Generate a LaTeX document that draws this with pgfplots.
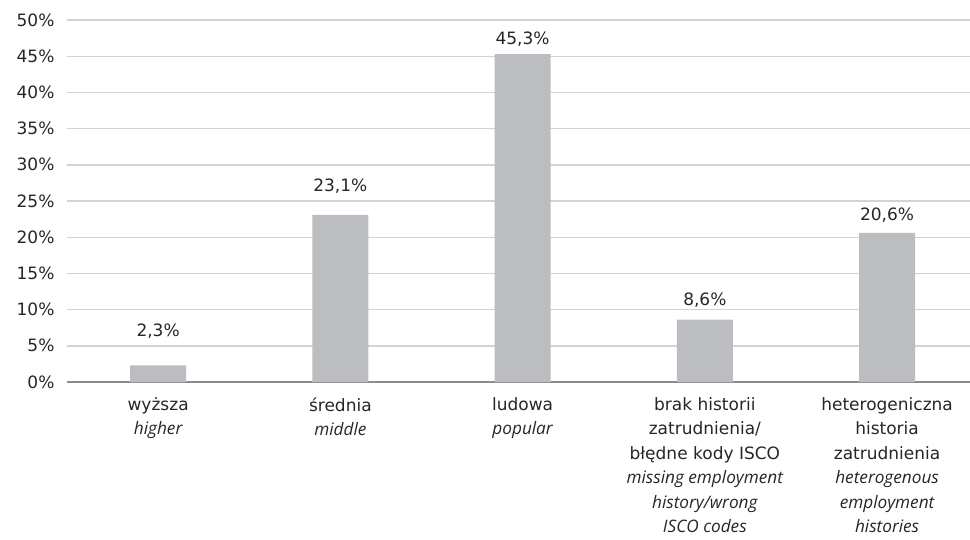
\documentclass[border=0pt]{standalone}
\usepackage{fontspec}
\setmainfont{DejaVu Sans}
\newfontfamily\itfam{Open Sans}
\newcommand\en[1]{{\itfam\itshape\fontsize{17.2}{24.4}\selectfont #1}}
\usepackage{pgfplots}
\pgfplotsset{compat=1.18}
\definecolor{barc}{HTML}{BCBDC0}
\definecolor{gridc}{HTML}{D3D3D3}
\definecolor{axc}{HTML}{8C8C8C}
\definecolor{txt}{HTML}{262626}
\begin{document}
\begin{tikzpicture}
\useasboundingbox (-67pt,-157pt) rectangle (903pt,382pt);
\begin{axis}[
  at={(0pt,0pt)}, anchor=south west,
  scale only axis, width=903pt, height=362pt,
  xmin=-0.5, xmax=4.455, ymin=0, ymax=50,
  clip=false,
  axis x line*=bottom, axis y line*=left,
  x axis line style={draw=axc, line width=1.3pt, -},
  y axis line style={draw=none},
  major tick length=0pt,
  ytick={0,5,...,50},
  yticklabel={\pgfmathprintnumber{\tick}\%},
  /pgf/number format/assume math mode=true,
  yticklabel style={font=\fontsize{17}{20}\selectfont, text=txt, xshift=-9pt},
  ymajorgrids, grid style={draw=gridc, line width=1.4pt},
  xtick={0,1,2,3,4},
  xticklabels={
    {wyższa\\\en{higher}},
    {średnia\\\en{middle}},
    {ludowa\\\en{popular}},
    {brak historii\\zatrudnienia/\\błędne kody ISCO\\\en{missing employment}\\\en{history/wrong}\\\en{ISCO codes}},
    {heterogeniczna\\historia\\zatrudnienia\\\en{heterogenous}\\\en{employment}\\\en{histories}}
  },
  xticklabel style={align=center, font=\fontsize{17}{24.4}\selectfont, text=txt, yshift=-12pt},
]
\addplot[ybar, bar width=56pt, bar shift=0pt, fill=barc, draw=none]
  coordinates {(0,2.3) (1,23.1) (2,45.3) (3,8.6) (4,20.6)};
\addplot[draw=none, mark=none, point meta=explicit,
  nodes near coords={\pgfmathprintnumber[fixed,fixed zerofill,precision=1,use comma]{\pgfplotspointmeta}\%},
  nodes near coords align={center},
  every node near coord/.append style={font=\fontsize{17}{20}\selectfont, text=txt}]
  coordinates {(0,7.0) [2.3] (1,27.1) [23.1] (2,47.3) [45.3] (3,11.3) [8.6] (4,23.1) [20.6]};
\end{axis}
\end{tikzpicture}
\end{document}
